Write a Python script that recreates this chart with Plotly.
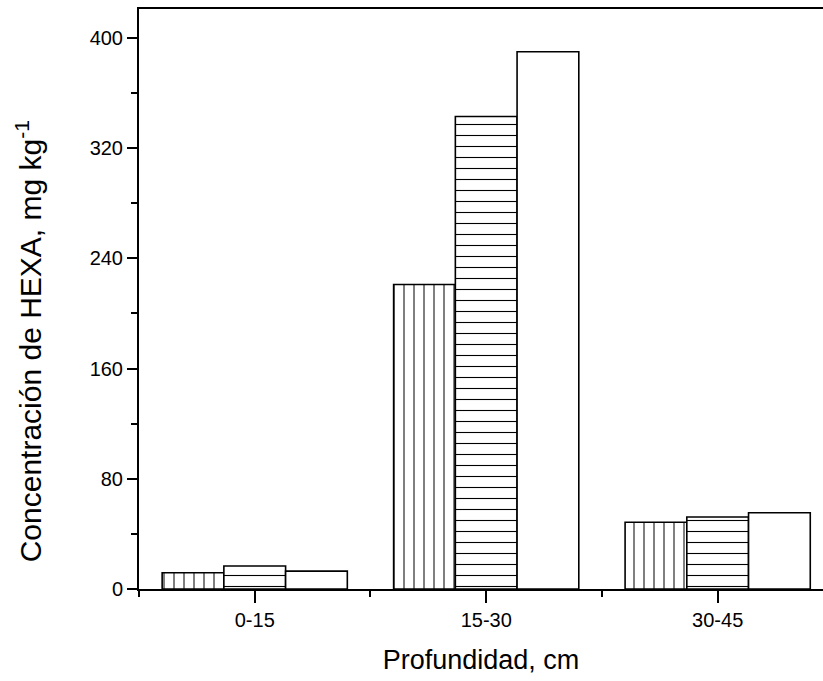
import plotly.graph_objects as go

categories = ["0-15", "15-30", "30-45"]
series_a = [11.8, 221, 48.4]   # vertical hatch
series_b = [16.7, 343, 52.3]   # horizontal hatch
series_c = [13.0, 390, 55.4]   # blank
y_ticks = [0, 80, 160, 240, 320, 400]

xpos = list(range(len(categories)))
FONT = "Arial, Liberation Sans, sans-serif"

fig = go.Figure()
common_line = dict(color="black", width=1.6)
fig.add_trace(go.Bar(x=xpos, y=series_a, marker=dict(color="white", line=common_line,
    pattern=dict(shape="|", size=10, solidity=0.1, fgcolor="black", bgcolor="white", fillmode="replace"))))
fig.add_trace(go.Bar(x=xpos, y=series_b, marker=dict(color="white", line=common_line,
    pattern=dict(shape="-", size=11, solidity=0.1, fgcolor="black", bgcolor="white", fillmode="replace"))))
fig.add_trace(go.Bar(x=xpos, y=series_c, marker=dict(color="white", line=common_line)))

fig.update_layout(
    width=823, height=681,
    margin=dict(l=139, r=0, t=9, b=92),
    paper_bgcolor="white", plot_bgcolor="white",
    barmode="group", bargap=0.2, bargroupgap=0,
    showlegend=False,
    font=dict(family=FONT, color="black"),
    annotations=[dict(
        text="Concentración de HEXA, mg kg<sup>-1</sup>",
        xref="paper", yref="paper", x=0, y=0.427,
        xanchor="center", yanchor="middle", xshift=-110,
        textangle=-90, showarrow=False,
        font=dict(size=30, family=FONT, color="black"),
    )],
)
fig.update_xaxes(
    range=[-0.5, 2.455],
    tickvals=xpos, ticktext=categories,
    ticks="outside", ticklen=12, tickwidth=2, tickcolor="black",
    minor=dict(tick0=0.5, dtick=1, ticks="outside", ticklen=6, tickwidth=2, tickcolor="black"),
    showline=True, linecolor="black", linewidth=2, mirror=True,
    showgrid=False, zeroline=False,
    tickfont=dict(size=20, family=FONT),
    title=dict(text="Profundidad, cm", font=dict(size=27, family=FONT), standoff=20),
)
fig.update_yaxes(
    range=[0, 421],
    tickvals=y_ticks,
    ticks="outside", ticklen=10, tickwidth=2, tickcolor="black",
    minor=dict(tick0=40, dtick=80, ticks="outside", ticklen=6, tickwidth=2, tickcolor="black"),
    showline=True, linecolor="black", linewidth=2,
    showgrid=False, zeroline=False,
    tickfont=dict(size=20, family=FONT),
)

fig.write_html("out.html", config={"displayModeBar": False},
               post_script="document.body.style.margin='0';")
